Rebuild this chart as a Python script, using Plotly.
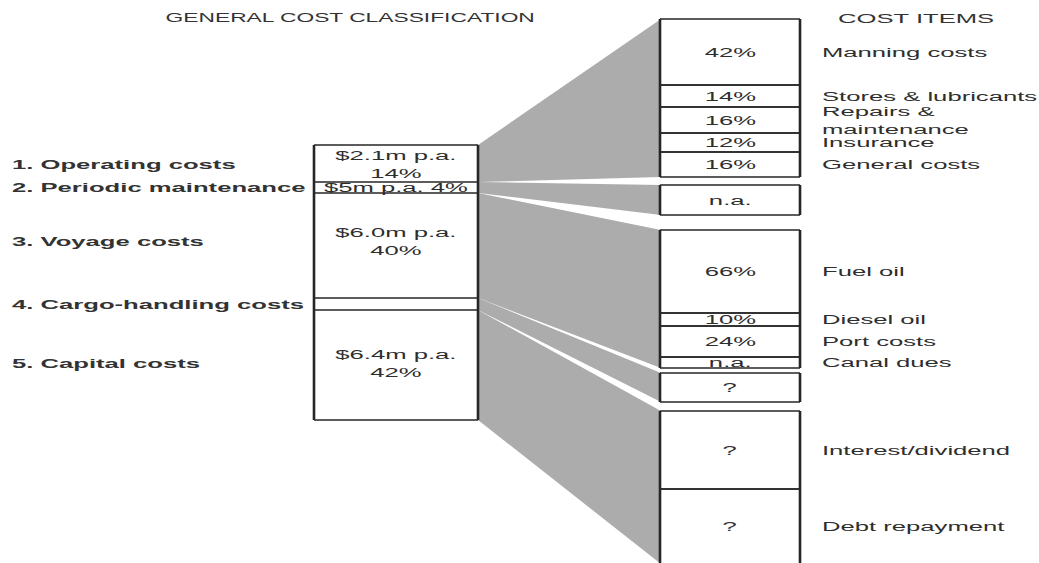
import plotly.graph_objects as go

# ---------------- data ----------------
titles = ["GENERAL COST CLASSIFICATION", "COST ITEMS"]
group_labels = ["1. Operating costs", "2. Periodic maintenance", "3. Voyage costs",
                "4. Cargo-handling costs", "5. Capital costs"]
group_costs = ["$2.1m p.a.", "$5m p.a.", "$6.0m p.a.", "", "$6.4m p.a."]
group_shares = ["14%", "4%", "40%", "", "42%"]
item_group = [0, 0, 0, 0, 0, 1, 2, 2, 2, 2, 3, 4, 4]
item_values = ["42%", "14%", "16%", "12%", "16%", "n.a.", "66%", "10%", "24%", "n.a.",
               "?", "?", "?"]
item_labels = ["Manning costs", "Stores & lubricants", "Repairs &<br>maintenance", "Insurance",
               "General costs", "", "Fuel oil", "Diesel oil", "Port costs", "Canal dues",
               "", "Interest/dividend", "Debt repayment"]

# ---------------- layout geometry (pixel space) ----------------
W, H = 1039, 563
LX0, LX1 = 314, 478
L_TOP = 145
L_HEIGHTS = [37, 11, 105, 12, 110]
L_TEXT_DY = [1, 0, -4, 0, -2]
RX0, RX1 = 660, 800
R_GROUP_TOPS = [19, 185, 230, 373, 411]
R_HEIGHTS = [66, 22, 26, 19, 25, 30, 83, 13, 31, 11, 29, 78, 75]

GREY = "#acacac"
INK = "#262626"
TXT = "#2e2e2e"
FONT = "Liberation Sans, Arial, sans-serif"
FS = 13.5
STRETCH = 1.9

# left column boundaries
l_bounds = [L_TOP]
for h in L_HEIGHTS:
    l_bounds.append(l_bounds[-1] + h)

# right column item boundaries
item_top, item_bot = [], []
group_span = {}
cur = {}
for i, g in enumerate(item_group):
    if g not in cur:
        cur[g] = R_GROUP_TOPS[g]
    item_top.append(cur[g])
    cur[g] += R_HEIGHTS[i]
    item_bot.append(cur[g])
    s = group_span.get(g, [item_top[-1], item_bot[-1]])
    group_span[g] = [min(s[0], item_top[-1]), max(s[1], item_bot[-1])]

fig = go.Figure()

# funnels
for g in range(len(group_labels)):
    rt, rb = group_span[g]
    lt, lb = l_bounds[g], l_bounds[g + 1]
    fig.add_trace(go.Scatter(
        x=[LX1, RX0 + 1, RX0 + 1, LX1, LX1], y=[lt, rt, rb, lb, lt],
        fill="toself", fillcolor=GREY, mode="lines", line=dict(width=0),
        hoverinfo="skip", showlegend=False))

# box lines
vx, vy, hx, hy = [], [], [], []
vx += [LX0, LX0, None, LX1, LX1, None]
vy += [l_bounds[0], l_bounds[-1], None, l_bounds[0], l_bounds[-1], None]
for b in l_bounds:
    hx += [LX0, LX1, None]
    hy += [b, b, None]
for g in range(len(group_labels)):
    rt, rb = group_span[g]
    vx += [RX0, RX0, None, RX1, RX1, None]
    vy += [rt, rb, None, rt, rb, None]
for i in range(len(item_group)):
    for b in (item_top[i], item_bot[i]):
        hx += [RX0, RX1, None]
        hy += [b, b, None]

fig.add_trace(go.Scatter(x=hx, y=hy, mode="lines", line=dict(color=INK, width=1.4),
                         hoverinfo="skip", showlegend=False))
fig.add_trace(go.Scatter(x=vx, y=vy, mode="lines", line=dict(color=INK, width=2.6),
                         hoverinfo="skip", showlegend=False))

ann = []


def add_text(x, y, text, xanchor="center", bold=False, size=FS, color=TXT, align="center"):
    ann.append(dict(x=x, y=y, xref="x", yref="y", text=text, showarrow=False,
                    xanchor=xanchor, yanchor="middle", align=align,
                    font=dict(family=FONT, size=size, color=color,
                              weight="bold" if bold else "normal")))


# titles
add_text(350, 18, titles[0], size=12, color="#333333")
add_text(916, 18, titles[1], size=13.5, color="#333333")

# left column
lcx = (LX0 + LX1) / 2
for g, lab in enumerate(group_labels):
    cy = (l_bounds[g] + l_bounds[g + 1]) / 2 + L_TEXT_DY[g]
    add_text(10, cy, lab, xanchor="left", bold=True, align="left", color="#333333")
    if group_costs[g]:
        if L_HEIGHTS[g] < 20:
            add_text(lcx, cy, group_costs[g] + " " + group_shares[g])
        else:
            add_text(lcx, cy, group_costs[g] + "<br>" + group_shares[g])

# right column
rcx = (RX0 + RX1) / 2
for i in range(len(item_group)):
    cy = (item_top[i] + item_bot[i]) / 2
    add_text(rcx, cy, item_values[i])
    if item_labels[i]:
        add_text(820, cy, item_labels[i], xanchor="left", align="left")

fig.update_layout(
    width=W, height=H, margin=dict(l=0, r=0, t=0, b=0),
    paper_bgcolor="white", plot_bgcolor="white",
    xaxis=dict(range=[0, W], visible=False, fixedrange=True),
    yaxis=dict(range=[H, 0], visible=False, fixedrange=True),
    annotations=ann, showlegend=False,
)

post = """
var gd = document.getElementById('{plot_id}');
function stretchText(){
  var anns = (gd._fullLayout && gd._fullLayout.annotations) || [];
  gd.querySelectorAll('g.annotation').forEach(function(g){
    var i = parseInt(g.getAttribute('data-index'));
    var a = anns[i]; if(!a) return;
    var t = g.querySelector('text.annotation-text'); if(!t) return;
    t.removeAttribute('transform');
    var bb = t.getBBox();
    var ax = a.xanchor === 'left' ? bb.x : (a.xanchor === 'right' ? bb.x + bb.width : bb.x + bb.width/2);
    t.setAttribute('transform', 'translate(' + ax + ',0) scale(STRETCH,1) translate(' + (-ax) + ',0)');
  });
}
stretchText();
gd.on('plotly_afterplot', stretchText);
""".replace("STRETCH", str(STRETCH))

fig.write_html("out.html", config={"displayModeBar": False, "staticPlot": True}, post_script=post)
